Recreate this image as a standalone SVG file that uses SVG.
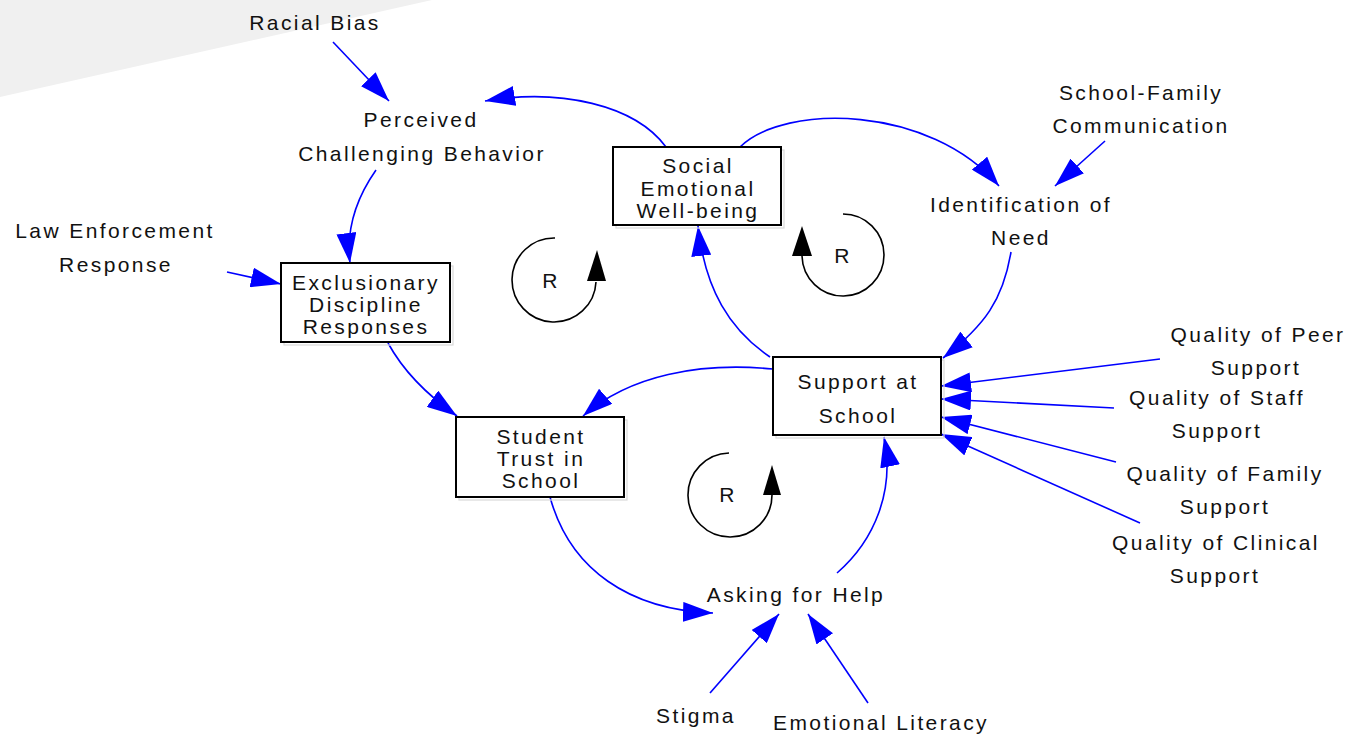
<svg xmlns="http://www.w3.org/2000/svg" width="1364" height="740" viewBox="0 0 1364 740">
<style>
  text { font-family: "Liberation Sans", Arial, sans-serif; font-size: 21px; letter-spacing: 2.4px; fill: #111; text-anchor: middle; }
  .box { fill: #fff; stroke: #000; stroke-width: 2; }
  .shadow { fill: none; stroke: #d9d9d9; stroke-width: 1.2; }
  .link { fill: none; stroke: #0000ff; stroke-width: 1.6; marker-end: url(#arr); }
  .loop { fill: none; stroke: #000; stroke-width: 1.6; }
  .loophead { fill: #000; }
</style>
<defs>
  <marker id="arr" viewBox="0 0 30 20" markerWidth="30" markerHeight="20" refX="30" refY="10" orient="auto" markerUnits="userSpaceOnUse">
    <path d="M0,0 L30,10 L0,20 Z" fill="#0000ff"/>
  </marker>
</defs>
<rect width="1364" height="740" fill="#fff"/>
<polygon points="0,0 432,0 0,97" fill="#f0f0f0"/>

<g id="connectors">
  <path class="link" d="M333,42 L389,101"/>
  <path class="link" d="M666,147 C635,105 560,88 485,101"/>
  <path class="link" d="M376,170 C355,200 346,230 350,263"/>
  <path class="link" d="M227,272 L281,284"/>
  <path class="link" d="M388,343 C400,365 420,390 457,416"/>
  <path class="link" d="M773,369 C700,362 630,375 583,416"/>
  <path class="link" d="M770,357 C730,330 705,290 698,226"/>
  <path class="link" d="M740,147 C785,103 930,105 999,186"/>
  <path class="link" d="M1105,141 L1055,186"/>
  <path class="link" d="M1011,252 C1003,300 985,325 943,358"/>
  <path class="link" d="M1160,359 L941,386"/>
  <path class="link" d="M1114,408 L941,399"/>
  <path class="link" d="M1116,462 L941,417"/>
  <path class="link" d="M1140,523 L941,434"/>
  <path class="link" d="M550,497 C570,570 630,610 713,613"/>
  <path class="link" d="M837,573 C875,540 895,490 884,437"/>
  <path class="link" d="M710,693 L779,614"/>
  <path class="link" d="M868,703 L808,614"/>
</g>

<g id="loops">
  <g id="loop1">
    <path class="loop" d="M555,238 A42,42 0 1 0 596,282"/>
    <polygon class="loophead" points="597,250 587,281 606,281"/>
    <text x="551" y="288">R</text>
  </g>
  <g id="loop2">
    <path class="loop" d="M843,214 A41,41 0 1 1 802,256"/>
    <polygon class="loophead" points="802,226 792,256 812,256"/>
    <text x="843" y="263">R</text>
  </g>
  <g id="loop3">
    <path class="loop" d="M729,453 A42,42 0 1 0 772,495"/>
    <polygon class="loophead" points="772,465 763,495 781,495"/>
    <text x="728" y="502">R</text>
  </g>
</g>

<g id="racial-bias"><text x="315" y="30">Racial Bias</text></g>
<g id="perceived-challenging-behavior">
  <text x="421" y="127">Perceived</text>
  <text x="422" y="161">Challenging Behavior</text>
</g>
<g id="social-emotional-well-being">
  <rect class="shadow" x="616" y="150" width="168" height="78"/>
  <rect class="box" x="613" y="147" width="168" height="78"/>
  <text x="698" y="173">Social</text>
  <text x="698" y="196">Emotional</text>
  <text x="698" y="218">Well-being</text>
</g>
<g id="exclusionary-discipline-responses">
  <rect class="shadow" x="284" y="266" width="169" height="79"/>
  <rect class="box" x="281" y="263" width="169" height="79"/>
  <text x="366" y="290">Exclusionary</text>
  <text x="366" y="312">Discipline</text>
  <text x="366" y="334">Responses</text>
</g>
<g id="law-enforcement-response">
  <text x="115" y="238">Law Enforcement</text>
  <text x="116" y="272">Response</text>
</g>
<g id="student-trust-in-school">
  <rect class="shadow" x="459" y="420" width="168" height="80"/>
  <rect class="box" x="456" y="417" width="168" height="80"/>
  <text x="541" y="444">Student</text>
  <text x="541" y="466">Trust in</text>
  <text x="541" y="488">School</text>
</g>
<g id="support-at-school">
  <rect class="shadow" x="776" y="360" width="168" height="78"/>
  <rect class="box" x="773" y="357" width="168" height="78"/>
  <text x="858" y="389">Support at</text>
  <text x="858" y="423">School</text>
</g>
<g id="school-family-communication">
  <text x="1141" y="100">School-Family</text>
  <text x="1141" y="133">Communication</text>
</g>
<g id="identification-of-need">
  <text x="1021" y="212">Identification of</text>
  <text x="1021" y="245">Need</text>
</g>
<g id="quality-peer">
  <text x="1258" y="342">Quality of Peer</text>
  <text x="1256" y="375">Support</text>
</g>
<g id="quality-staff">
  <text x="1217" y="405">Quality of Staff</text>
  <text x="1217" y="438">Support</text>
</g>
<g id="quality-family">
  <text x="1225" y="481">Quality of Family</text>
  <text x="1225" y="514">Support</text>
</g>
<g id="quality-clinical">
  <text x="1216" y="550">Quality of Clinical</text>
  <text x="1215" y="583">Support</text>
</g>
<g id="asking-for-help"><text x="796" y="602">Asking for Help</text></g>
<g id="stigma"><text x="696" y="723">Stigma</text></g>
<g id="emotional-literacy"><text x="881" y="730">Emotional Literacy</text></g>
</svg>
